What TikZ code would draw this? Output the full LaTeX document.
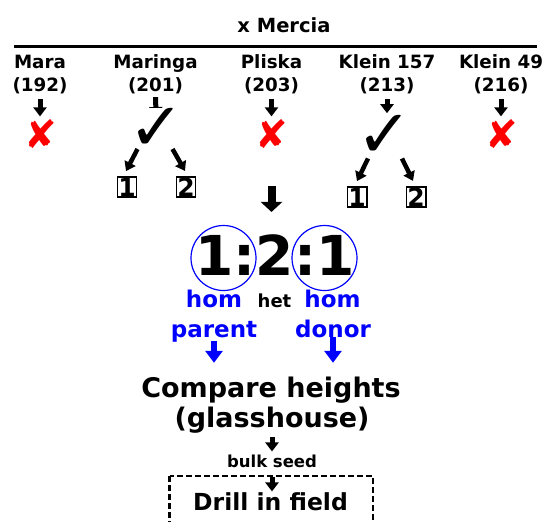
\documentclass[tikz,border=0pt]{standalone}
\usepackage{fontspec}
\setmainfont{DejaVu Sans}
\newfontfamily\symfont{DejaVu Sans}
\usetikzlibrary{arrows.meta,calc}
\begin{document}
\begin{tikzpicture}[x=1pt,y=-1pt,
  txt/.style={inner sep=0pt, anchor=base},
  lbl/.style={txt, font=\fontsize{18.3}{22}\selectfont\bfseries},
  sarr/.style={line width=5pt, -{Triangle[width=13pt,length=9pt]}},
  darr/.style={line width=4.5pt, -{Triangle[width=12pt,length=9pt]}},
  barr/.style={blue, line width=6pt, -{Triangle[width=17pt,length=12pt]}},
  bigarr/.style={line width=8pt, -{Triangle[width=21pt,length=10pt]}},
  xmark/.style={inner sep=0pt, text=red, font=\symfont\fontsize{39}{39}\selectfont},
  tick/.style={inner sep=0pt, fill=white, font=\symfont\fontsize{67}{67}\selectfont},
  numbox/.style={draw, line width=1.6pt, inner sep=1pt, font=\fontsize{25}{25}\selectfont\bfseries},
  ring/.style={circle, draw=blue, line width=1.2pt, minimum size=65pt, inner sep=0pt},
  bluetxt/.style={txt, text=blue, font=\fontsize{23}{23}\selectfont\bfseries},
  dbox/.style={draw, line width=2.2pt, dash pattern=on 6pt off 3pt}
]
\useasboundingbox (0,0) rectangle (544,522);

% title and rule
\node[txt, font=\fontsize{19.5}{24}\selectfont\bfseries] (title) at (284,32) {x Mercia};
\coordinate (rl) at (14,46);
\coordinate (rr) at (537,46);
\draw[line width=3pt] (rl) -- (rr);

% varieties
\node[lbl] (n1) at (40,68) {Mara};
\node[lbl] (c1) at (40,91) {(192)};
\node[lbl] (n2) at (155.5,68) {Maringa};
\node[lbl] (c2) at (155.5,91) {(201)};
\node[lbl] (n3) at (271.5,68) {Pliska};
\node[lbl] (c3) at (271.5,91) {(203)};
\node[lbl] (n4) at (387,68) {Klein 157};
\node[lbl] (c4) at (387,91) {(213)};
\node[lbl] (n5) at (501,68) {Klein 49};
\node[lbl] (c5) at (501,91) {(216)};

% results
\node[xmark] (x1) at (41,134) {✘};
\node[xmark] (x3) at (272,134) {✘};
\node[xmark] (x5) at (502,134) {✘};

\draw[sarr, shorten <=5.5pt, shorten >=3pt] (c1.south) -- (c1.south |- x1.north);
\draw[sarr, shorten <=5.5pt, shorten >=3pt] (c3.south) -- (c3.south |- x3.north);
\draw[sarr, shorten <=5.5pt, shorten >=3pt] (c5.south) -- (c5.south |- x5.north);

\node[tick] (t4) at (385,136.5) {✓};
\draw[sarr, shorten <=5.5pt, shorten >=2pt] (c4.south) -- (c4.south |- t4.north);
\coordinate (a2e) at (156,116);
\draw[sarr, shorten <=3.5pt] (c2.south) -- (a2e);
\node[tick] (t2) at (156.5,129) {✓};

% boxed numbers
\node[numbox] (b21) at (127,187) {1};
\node[numbox] (b22) at (186,187) {2};
\node[numbox] (b41) at (357,197) {1};
\node[numbox] (b42) at (416,197) {2};

\draw[darr] ($(t2)+(-19,20)$) -- ($(b21.north)+(-1,-5)$);
\draw[darr] ($(t2)+(16,20)$) -- ($(b22.north)+(-1,-5)$);
\draw[darr] ($(t4)+(-17,22)$) -- ($(b41.north)+(0,-5)$);
\draw[darr] ($(t4)+(17,22)$) -- ($(b42.north)+(-3,-5)$);

% ratio
\node[txt, font=\fontsize{55}{55}\selectfont\bfseries] (ratio) at (275,275) {1:2:1};
\coordinate (ba1) at (271.5,186);
\draw[bigarr, shorten >=22pt] (ba1) -- (ba1 |- ratio.north);
\node[ring] (r1) at (223.5,258) {};
\node[ring] (r2) at (324.5,258) {};

\node[bluetxt] (hom1) at (214,307) {hom};
\node[txt, font=\fontsize{18}{18}\selectfont\bfseries] (het) at (274.5,307) {het};
\node[bluetxt] (hom2) at (332.5,307) {hom};
\node[bluetxt] (par) at (214,337) {parent};
\node[bluetxt] (don) at (333,337) {donor};

% compare
\node[txt, font=\fontsize{27}{27}\selectfont\bfseries] (cmp1) at (271,397) {Compare heights};
\node[txt, font=\fontsize{27}{27}\selectfont\bfseries] (cmp2) at (272,427) {(glasshouse)};

\draw[barr, shorten <=-1pt, shorten >=13.5pt] (par.south) -- (par.south |- cmp1.north);
\draw[barr, shorten <=-1pt, shorten >=13.5pt] (don.south) -- (don.south |- cmp1.north);

\node[txt, font=\fontsize{16.5}{16.5}\selectfont\bfseries] (bulk) at (272,467) {bulk seed};
\draw[sarr, shorten <=4.4pt, shorten >=2.8pt] (cmp2.south) -- (bulk.north);

\node[txt, font=\fontsize{23.5}{23.5}\selectfont\bfseries] (drill) at (270.5,510) {Drill in field};
\draw[sarr, shorten <=10pt, shorten >=0.5pt] (bulk.south) -- (bulk.south |- drill.north);
\coordinate (dbl) at ($(drill.base)+(-101,-34)$);
\coordinate (dbr) at ($(drill.base)+(102.5,30)$);
\draw[dbox] (dbl) rectangle (dbr);
\end{tikzpicture}
\end{document}
